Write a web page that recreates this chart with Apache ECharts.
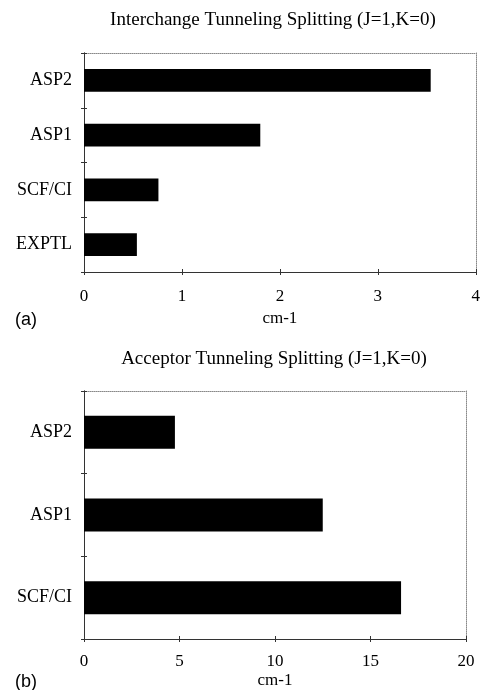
<!DOCTYPE html>
<html>
<head>
<meta charset="utf-8">
<script src="https://cdn.jsdelivr.net/npm/echarts@6/dist/echarts.min.js"></script>
<style>html,body{margin:0;padding:0;background:#fff;}#c{width:483px;height:690px;}</style>
</head>
<body>
<div id="c"></div>
<script>
const categoriesA = ['ASP2', 'ASP1', 'SCF/CI', 'EXPTL'];
const valuesA = [3.54, 1.80, 0.76, 0.54];
const categoriesB = ['ASP2', 'ASP1', 'SCF/CI'];
const valuesB = [4.76, 12.5, 16.6];
const titleA = 'Interchange Tunneling Splitting (J=1,K=0)';
const titleB = 'Acceptor Tunneling Splitting (J=1,K=0)';
const axisNameX = 'cm-1';

const serif = 'Liberation Serif';
const axisColor = '#333';
const dotStyle = { color: '#888', type: 'dotted', width: 1 };

function mainX(grid, max, interval, margin, gap) {
  return {
    gridIndex: grid, type: 'value', position: 'bottom', min: 0, max: max, interval: interval,
    name: axisNameX, nameLocation: 'middle', nameGap: gap,
    nameTextStyle: { fontFamily: serif, fontSize: 17, color: '#000' },
    axisLine: { show: true, onZero: false, lineStyle: { color: axisColor, width: 1 } },
    axisTick: { show: true, inside: false, length: 3, lineStyle: { color: axisColor } },
    axisLabel: { fontFamily: serif, fontSize: 17, color: '#000', margin: margin },
    splitLine: { show: false }
  };
}
function dupX(grid, max, interval) {
  return {
    gridIndex: grid, type: 'value', position: 'bottom', min: 0, max: max, interval: interval,
    axisLine: { show: true, onZero: false, lineStyle: { color: axisColor, width: 1 } },
    axisTick: { show: true, inside: true, length: 3, lineStyle: { color: axisColor } },
    axisLabel: { show: false }, splitLine: { show: false }
  };
}
function topX(grid, max) {
  return {
    gridIndex: grid, type: 'value', position: 'top', min: 0, max: max,
    axisLine: { show: true, onZero: false, lineStyle: dotStyle },
    axisTick: { show: false }, axisLabel: { show: false }, splitLine: { show: false }
  };
}
function mainY(grid, cats) {
  return {
    gridIndex: grid, type: 'category', position: 'left', data: cats, inverse: true,
    axisLine: { show: true, onZero: false, lineStyle: { color: axisColor, width: 1 } },
    axisTick: { show: true, inside: false, length: 3, interval: 0, lineStyle: { color: axisColor } },
    axisLabel: { fontFamily: serif, fontSize: 18, color: '#000', margin: 12, interval: 0 }
  };
}
function dupY(grid, cats) {
  return {
    gridIndex: grid, type: 'category', position: 'left', data: cats, inverse: true,
    axisLine: { show: true, onZero: false, lineStyle: { color: axisColor, width: 1 } },
    axisTick: { show: true, inside: true, length: 3, interval: 0, lineStyle: { color: axisColor } },
    axisLabel: { show: false, interval: 0 }
  };
}
function rightY(grid, cats) {
  return {
    gridIndex: grid, type: 'category', position: 'right', data: cats, inverse: true,
    axisLine: { show: true, onZero: false, lineStyle: dotStyle },
    axisTick: { show: false }, axisLabel: { show: false }
  };
}

const chart = echarts.init(document.getElementById('c'), null, { renderer: 'canvas' });
chart.setOption({
  backgroundColor: '#fff',
  animation: false,
  grid: [
    { left: 84, top: 53, width: 394, height: 219 },
    { left: 84, top: 391, width: 382, height: 249 }
  ],
  xAxis: [
    mainX(0, 4, 1, 16, 38), dupX(0, 4, 1), topX(0, 4),
    mainX(1, 20, 5, 14, 33), dupX(1, 20, 5), topX(1, 20)
  ],
  yAxis: [
    mainY(0, categoriesA), dupY(0, categoriesA), rightY(0, categoriesA),
    mainY(1, categoriesB), dupY(1, categoriesB), rightY(1, categoriesB)
  ],
  series: [
    { type: 'bar', xAxisIndex: 0, yAxisIndex: 0, data: valuesA, barWidth: '42%',
      itemStyle: { color: '#000' } },
    { type: 'bar', xAxisIndex: 3, yAxisIndex: 3, data: valuesB, barWidth: '40%',
      itemStyle: { color: '#000' } }
  ],
  graphic: [
    { type: 'text', x: 273, y: 20, style: { text: titleA, font: '19px "Liberation Serif"', fill: '#000', textAlign: 'center', textVerticalAlign: 'middle' } },
    { type: 'text', x: 274, y: 359, style: { text: titleB, font: '19px "Liberation Serif"', fill: '#000', textAlign: 'center', textVerticalAlign: 'middle' } },
    { type: 'text', x: 15, y: 320, style: { text: '(a)', font: '18px "Liberation Sans"', fill: '#000', textAlign: 'left', textVerticalAlign: 'middle' } },
    { type: 'text', x: 15, y: 682, style: { text: '(b)', font: '18px "Liberation Sans"', fill: '#000', textAlign: 'left', textVerticalAlign: 'middle' } }
  ]
});
</script>
</body>
</html>
